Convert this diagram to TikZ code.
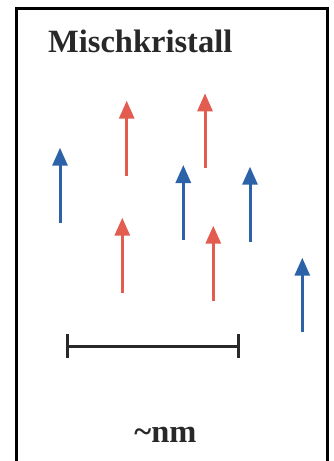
\documentclass[tikz,border=0pt]{standalone}
\usepackage{fontspec}
\setmainfont{Liberation Serif}
\usetikzlibrary{arrows.meta}
\definecolor{spinred}{RGB}{226,92,80}
\definecolor{spinblue}{RGB}{44,98,168}
\definecolor{bartxt}{RGB}{40,40,40}
\begin{document}
\begin{tikzpicture}[x=1pt,y=-1pt,
  spin/.style={line width=3pt,-{Triangle[width=15pt,length=18pt]}},
  redspin/.style={spin,spinred},
  bluespin/.style={spin,spinblue},
  frame/.style={line width=3.4pt,black},
  scalebar/.style={line width=2.8pt,bartxt},
  lbl/.style={font=\bfseries\fontsize{32.5}{36}\selectfont,text=bartxt,inner sep=0pt}]
\useasboundingbox (0,0) rectangle (334,461);
\draw[frame] (16.5,461) -- (16.5,8.5) -- (327.5,8.5) -- (327.5,461);
\node[lbl,anchor=base west] (title) at (48,52) {Mischkristall};
% blue spins
\coordinate (b1s) at (60,222.7); \coordinate (b1e) at (60,147.7);
\coordinate (b2s) at (183.3,240); \coordinate (b2e) at (183.3,165);
\coordinate (b3s) at (250,241.7); \coordinate (b3e) at (250,166.7);
\coordinate (b4s) at (302.3,332.3); \coordinate (b4e) at (302.3,257.7);
% red spins
\coordinate (r1s) at (126.7,175.7); \coordinate (r1e) at (126.7,100.7);
\coordinate (r2s) at (205,168.3); \coordinate (r2e) at (205,93.3);
\coordinate (r3s) at (122.3,293.3); \coordinate (r3e) at (122.3,217.7);
\coordinate (r4s) at (213.3,301); \coordinate (r4e) at (213.3,225.7);
\draw[bluespin] (b1s) -- (b1e);
\draw[bluespin] (b2s) -- (b2e);
\draw[bluespin] (b3s) -- (b3e);
\draw[bluespin] (b4s) -- (b4e);
\draw[redspin] (r1s) -- (r1e);
\draw[redspin] (r2s) -- (r2e);
\draw[redspin] (r3s) -- (r3e);
\draw[redspin] (r4s) -- (r4e);
% scale bar
\coordinate (sl) at (67.7,346.7); \coordinate (sr) at (238.7,346.7);
\draw[scalebar] (sl) -- (sr);
\draw[scalebar] ([yshift=-11pt]sl) -- ([yshift=13pt]sl);
\draw[scalebar] ([yshift=-11pt]sr) -- ([yshift=13pt]sr);
\node[lbl,anchor=base] (nm) at (165.5,442.5) {\char`\~nm};
\end{tikzpicture}
\end{document}
